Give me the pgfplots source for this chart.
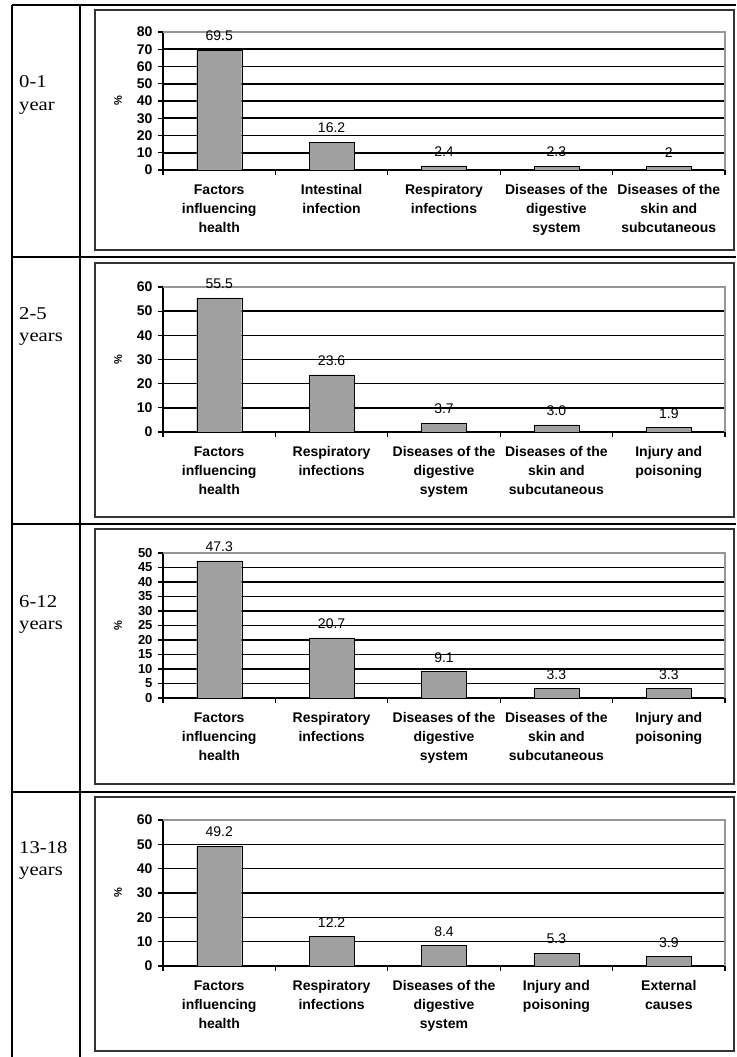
\documentclass[border=0pt]{standalone}
\usepackage{fontspec}
\usepackage{pgfplots}
\pgfplotsset{compat=1.18}
\newfontfamily\arial{Liberation Sans}
\newfontfamily\timesx[FakeStretch=1.15]{Liberation Serif}
\definecolor{barg}{RGB}{160,160,160}
\definecolor{frameg}{RGB}{150,150,150}

\pgfplotsset{
  panel/.style={
    scale only axis, width=562pt, anchor=south west,
    xmin=-0.5, xmax=4.5, ymin=0, enlargelimits=false, clip=false,
    ybar, bar width=45pt,
    /pgf/number format/assume math mode=true,
    axis x line*=bottom, axis y line*=left,
    axis line style={-, black, line width=1.5pt},
    xtick={-0.5,0.5,...,4.5}, xticklabels={},
    extra x ticks={0,1,2,3,4},
    extra x tick style={major tick length=0pt, grid=none},
    ymajorgrids, grid style={black, line width=1.6pt},
    tick align=outside, major tick length=5pt,
    tick style={black, line width=1.2pt},
    xticklabel style={font=\arial\bfseries\fontsize{14}{19}\selectfont, align=center, yshift=-11pt},
    yticklabel style={font=\arial\bfseries\fontsize{14}{14}\selectfont, xshift=-2pt},
    every axis y label/.style={at={(rel axis cs:-0.08,0.5)}, anchor=center, rotate=90, font=\arial\bfseries\fontsize{11}{11}\selectfont},
    ylabel={\%},
    cycle list={{fill=barg, draw=black, line width=1.3pt}},
    point meta=explicit symbolic, nodes near coords,
    nodes near coords style={font=\arial\fontsize{14}{14}\selectfont, anchor=south, inner sep=0pt, yshift=9pt, text=black},
  }
}

\begin{document}
\begin{tikzpicture}
\useasboundingbox (0,0) rectangle (736pt,-1057pt);
% table grid
\draw[line width=1.2pt] (12pt,-5pt) -- (736pt,-5pt);
\draw[line width=1.2pt] (12pt,-257pt) -- (736pt,-257pt);
\draw[line width=1.2pt] (12pt,-524pt) -- (736pt,-524pt);
\draw[line width=1.2pt] (12pt,-792pt) -- (736pt,-792pt);
\draw[line width=1.2pt] (12pt,-5pt) -- (12pt,-1057pt);
\draw[line width=1.2pt] (80pt,-5pt) -- (80pt,-1057pt);
% panel boxes
\draw[black!80, line width=1.5pt] (95pt,-10pt) rectangle (734pt,-250pt);
\draw[black!80, line width=1.5pt] (95pt,-263pt) rectangle (734pt,-517pt);
\draw[black!80, line width=1.5pt] (95pt,-529pt) rectangle (734pt,-784pt);
\draw[black!80, line width=1.5pt] (95pt,-797pt) rectangle (734pt,-1051pt);
% age labels
\begin{scope}[every node/.style={anchor=base west, inner sep=0pt, font=\timesx\fontsize{18}{22}\selectfont}]
\node at (19pt,-88pt) {0-1};
\node at (19pt,-110pt) {year};
\node at (19pt,-319pt) {2-5};
\node at (19pt,-341pt) {years};
\node at (19pt,-607pt) {6-12};
\node at (19pt,-629pt) {years};
\node at (19pt,-853pt) {13-18};
\node at (19pt,-875pt) {years};
\end{scope}

% 0-1 year
\begin{axis}[panel, at={(163pt,-170pt)}, height=138pt, ymax=80,
  ytick={0,10,...,80},
  extra x tick labels={Factors\\influencing\\health, Intestinal\\infection, Respiratory\\infections, Diseases of the\\digestive\\system, Diseases of the\\skin and\\subcutaneous}]
\addplot coordinates {(0,69.5)[69.5] (1,16.2)[16.2] (2,2.4)[2.4] (3,2.3)[2.3] (4,2)[2]};
\draw[frameg, line width=1.3pt] (rel axis cs:0,1) -- (rel axis cs:1,1) -- (rel axis cs:1,0);
\end{axis}

% 2-5 years
\begin{axis}[panel, at={(163pt,-432pt)}, height=145pt, ymax=60,
  ytick={0,10,...,60},
  extra x tick labels={Factors\\influencing\\health, Respiratory\\infections, Diseases of the\\digestive\\system, Diseases of the\\skin and\\subcutaneous, Injury and\\poisoning}]
\addplot coordinates {(0,55.5)[55.5] (1,23.6)[23.6] (2,3.7)[3.7] (3,3.0)[3.0] (4,1.9)[1.9]};
\draw[frameg, line width=1.3pt] (rel axis cs:0,1) -- (rel axis cs:1,1) -- (rel axis cs:1,0);
\end{axis}

% 6-12 years
\begin{axis}[panel, at={(163pt,-698pt)}, height=145pt, ymax=50,
  ytick={0,5,...,50},
  yticklabel style={font=\arial\bfseries\fontsize{13}{13}\selectfont},
  extra x tick labels={Factors\\influencing\\health, Respiratory\\infections, Diseases of the\\digestive\\system, Diseases of the\\skin and\\subcutaneous, Injury and\\poisoning}]
\addplot coordinates {(0,47.3)[47.3] (1,20.7)[20.7] (2,9.1)[9.1] (3,3.3)[3.3] (4,3.3)[3.3]};
\draw[frameg, line width=1.3pt] (rel axis cs:0,1) -- (rel axis cs:1,1) -- (rel axis cs:1,0);
\end{axis}

% 13-18 years
\begin{axis}[panel, at={(163pt,-966pt)}, height=146pt, ymax=60,
  ytick={0,10,...,60},
  extra x tick labels={Factors\\influencing\\health, Respiratory\\infections, Diseases of the\\digestive\\system, Injury and\\poisoning, External\\causes}]
\addplot coordinates {(0,49.2)[49.2] (1,12.2)[12.2] (2,8.4)[8.4] (3,5.3)[5.3] (4,3.9)[3.9]};
\draw[frameg, line width=1.3pt] (rel axis cs:0,1) -- (rel axis cs:1,1) -- (rel axis cs:1,0);
\end{axis}
\end{tikzpicture}
\end{document}
